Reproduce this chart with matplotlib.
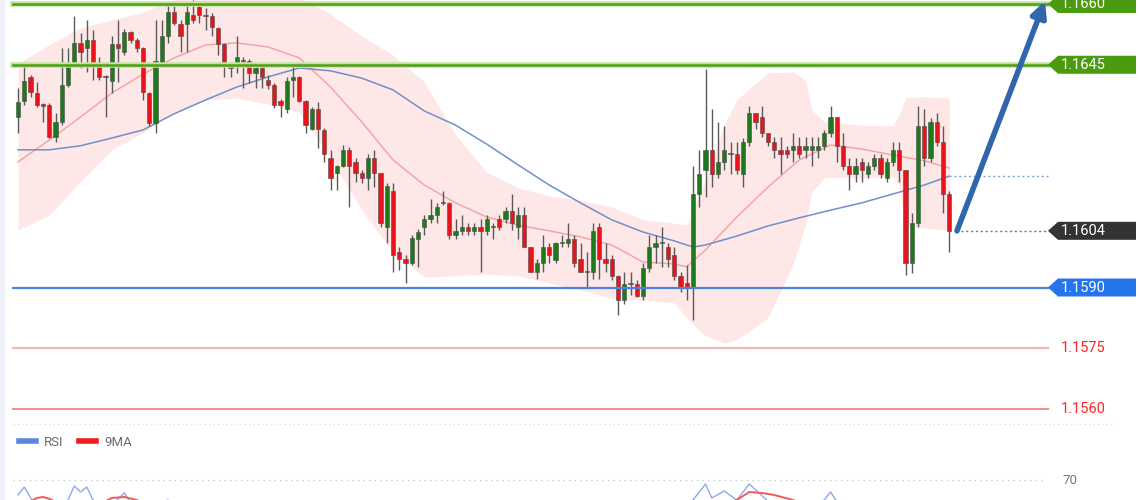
import numpy as np
import matplotlib
matplotlib.use("Agg")
import matplotlib.pyplot as plt
from matplotlib.patches import Polygon, Rectangle
from matplotlib.lines import Line2D

plt.rcParams['font.family'] = ['Roboto', 'DejaVu Sans']

# ---- candles (EUR/USD) ----
opens = [1.16321, 1.16361, 1.16420, 1.16380, 1.16353, 1.16351, 1.16272, 1.16309, 1.16400, 1.16452,
         1.16504, 1.16491, 1.16511, 1.16450, 1.16422, 1.16410, 1.16501, 1.16482, 1.16531, 1.16511,
         1.16491, 1.16380, 1.16306, 1.16454, 1.16521, 1.16580, 1.16551, 1.16551, 1.16573, 1.16593,
         1.16573, 1.16570, 1.16541, 1.16501, 1.16442, 1.16454, 1.16462, 1.16459, 1.16430, 1.16442,
         1.16412, 1.16400, 1.16361, 1.16341, 1.16412, 1.16420, 1.16361, 1.16291, 1.16341, 1.16289,
         1.16220, 1.16183, 1.16200, 1.16240, 1.16210, 1.16183, 1.16171, 1.16220, 1.16183, 1.16050,
         1.16138, 1.15988, 1.15971, 1.15961, 1.16020, 1.16050, 1.16069, 1.16079, 1.16111, 1.16109,
         1.16030, 1.16040, 1.16050, 1.16040, 1.16050, 1.16040, 1.16050, 1.16069, 1.16069, 1.16089,
         1.16050, 1.16079, 1.16000, 1.15938, 1.15961, 1.16000, 1.15968, 1.16010, 1.16010, 1.16020,
         1.15971, 1.15938, 1.15938, 1.16050, 1.15971, 1.15971, 1.15929, 1.15869, 1.15909, 1.15909,
         1.15879, 1.15948, 1.16000, 1.16010, 1.16000, 1.15980, 1.15929, 1.15911, 1.15901, 1.16131,
         1.16190, 1.16240, 1.16180, 1.16210, 1.16230, 1.16230, 1.16180, 1.16259, 1.16331, 1.16321,
         1.16282, 1.16259, 1.16240, 1.16240, 1.16240, 1.16250, 1.16240, 1.16240, 1.16240, 1.16250,
         1.16282, 1.16321, 1.16250, 1.16200, 1.16180, 1.16210, 1.16180, 1.16200, 1.16220, 1.16171,
         1.16210, 1.16240, 1.16190, 1.15961, 1.16059, 1.16299, 1.16220, 1.16309, 1.16259, 1.16131]
closes = [1.16358, 1.16410, 1.16383, 1.16351, 1.16348, 1.16272, 1.16309, 1.16400, 1.16450, 1.16504,
          1.16482, 1.16511, 1.16452, 1.16420, 1.16420, 1.16501, 1.16491, 1.16531, 1.16511, 1.16491,
          1.16383, 1.16306, 1.16459, 1.16521, 1.16580, 1.16553, 1.16521, 1.16580, 1.16561, 1.16573,
          1.16570, 1.16543, 1.16501, 1.16454, 1.16450, 1.16469, 1.16459, 1.16430, 1.16442, 1.16420,
          1.16400, 1.16351, 1.16351, 1.16410, 1.16420, 1.16361, 1.16301, 1.16341, 1.16291, 1.16230,
          1.16171, 1.16200, 1.16240, 1.16200, 1.16183, 1.16171, 1.16220, 1.16183, 1.16059, 1.16151,
          1.15980, 1.15971, 1.15961, 1.16022, 1.16037, 1.16069, 1.16079, 1.16099, 1.16109, 1.16030,
          1.16040, 1.16050, 1.16040, 1.16050, 1.16040, 1.16069, 1.16050, 1.16050, 1.16089, 1.16059,
          1.16079, 1.16000, 1.15938, 1.15961, 1.16000, 1.15980, 1.16010, 1.16010, 1.16020, 1.15961,
          1.15938, 1.15938, 1.16040, 1.15971, 1.15961, 1.15929, 1.15869, 1.15909, 1.15909, 1.15879,
          1.15948, 1.16000, 1.16010, 1.16010, 1.15971, 1.15929, 1.15901, 1.15901, 1.16131, 1.16180,
          1.16240, 1.16180, 1.16210, 1.16240, 1.16230, 1.16190, 1.16259, 1.16331, 1.16309, 1.16282,
          1.16259, 1.16240, 1.16230, 1.16230, 1.16250, 1.16230, 1.16250, 1.16250, 1.16250, 1.16282,
          1.16321, 1.16250, 1.16200, 1.16180, 1.16200, 1.16190, 1.16200, 1.16220, 1.16180, 1.16210,
          1.16240, 1.16190, 1.15961, 1.16059, 1.16299, 1.16220, 1.16309, 1.16259, 1.16131, 1.16040]
highs = [1.16393, 1.16450, 1.16425, 1.16408, 1.16356, 1.16356, 1.16331, 1.16491, 1.16491, 1.16570,
         1.16529, 1.16561, 1.16536, 1.16469, 1.16425, 1.16521, 1.16561, 1.16538, 1.16533, 1.16516,
         1.16494, 1.16383, 1.16561, 1.16561, 1.16603, 1.16598, 1.16561, 1.16603, 1.16610, 1.16603,
         1.16590, 1.16578, 1.16543, 1.16504, 1.16454, 1.16521, 1.16469, 1.16464, 1.16445, 1.16450,
         1.16425, 1.16405, 1.16366, 1.16420, 1.16450, 1.16422, 1.16363, 1.16346, 1.16358, 1.16294,
         1.16240, 1.16203, 1.16252, 1.16247, 1.16220, 1.16190, 1.16230, 1.16240, 1.16183, 1.16158,
         1.16158, 1.16000, 1.15980, 1.16030, 1.16045, 1.16079, 1.16119, 1.16109, 1.16138, 1.16111,
         1.16069, 1.16079, 1.16059, 1.16059, 1.16069, 1.16079, 1.16059, 1.16079, 1.16099, 1.16131,
         1.16099, 1.16099, 1.16000, 1.15971, 1.16030, 1.16010, 1.16013, 1.16030, 1.16059, 1.16030,
         1.16010, 1.15988, 1.16059, 1.16059, 1.16010, 1.15980, 1.15931, 1.15938, 1.15938, 1.15919,
         1.15961, 1.16030, 1.16030, 1.16050, 1.16010, 1.16000, 1.15938, 1.15956, 1.16200, 1.16240,
         1.16440, 1.16341, 1.16309, 1.16299, 1.16259, 1.16259, 1.16269, 1.16348, 1.16331, 1.16348,
         1.16282, 1.16272, 1.16272, 1.16250, 1.16282, 1.16272, 1.16272, 1.16272, 1.16272, 1.16289,
         1.16348, 1.16321, 1.16282, 1.16220, 1.16220, 1.16220, 1.16210, 1.16230, 1.16230, 1.16220,
         1.16259, 1.16259, 1.16190, 1.16084, 1.16348, 1.16341, 1.16319, 1.16331, 1.16299, 1.16138]
lows = [1.16282, 1.16351, 1.16371, 1.16346, 1.16309, 1.16269, 1.16259, 1.16301, 1.16395, 1.16447,
        1.16442, 1.16432, 1.16412, 1.16412, 1.16321, 1.16380, 1.16408, 1.16474, 1.16504, 1.16482,
        1.16363, 1.16299, 1.16282, 1.16452, 1.16504, 1.16548, 1.16482, 1.16482, 1.16553, 1.16553,
        1.16536, 1.16521, 1.16474, 1.16420, 1.16420, 1.16430, 1.16393, 1.16405, 1.16393, 1.16393,
        1.16390, 1.16343, 1.16321, 1.16331, 1.16371, 1.16358, 1.16282, 1.16289, 1.16245, 1.16210,
        1.16141, 1.16141, 1.16198, 1.16099, 1.16161, 1.16158, 1.16141, 1.16148, 1.16050, 1.16010,
        1.15938, 1.15943, 1.15911, 1.15956, 1.15951, 1.16030, 1.16059, 1.16059, 1.16104, 1.16020,
        1.16020, 1.16030, 1.16030, 1.16030, 1.15938, 1.16030, 1.16020, 1.16042, 1.16059, 1.16042,
        1.16020, 1.16000, 1.15938, 1.15921, 1.15938, 1.15961, 1.15961, 1.16000, 1.16000, 1.15951,
        1.15938, 1.15901, 1.15921, 1.15921, 1.15938, 1.15919, 1.15832, 1.15859, 1.15882, 1.15877,
        1.15869, 1.15938, 1.15961, 1.15951, 1.15951, 1.15919, 1.15889, 1.15869, 1.15820, 1.16099,
        1.16124, 1.16148, 1.16171, 1.16190, 1.16180, 1.16180, 1.16148, 1.16250, 1.16291, 1.16272,
        1.16250, 1.16220, 1.16180, 1.16220, 1.16210, 1.16220, 1.16220, 1.16200, 1.16220, 1.16240,
        1.16272, 1.16210, 1.16190, 1.16141, 1.16161, 1.16161, 1.16171, 1.16190, 1.16171, 1.16161,
        1.16200, 1.16161, 1.15931, 1.15936, 1.16050, 1.16200, 1.16210, 1.16250, 1.16084, 1.15988]

# ---- Bollinger band and moving averages (sampled at candle numbers) ----
band_idx = [1, 6, 11, 16, 21, 26, 31, 36, 41, 46, 51, 56, 61, 66, 71, 76, 81, 86, 91, 96, 101,
            106, 108, 111, 114, 116, 121, 125, 127, 128, 130, 136, 141, 142, 143, 146, 150]
band_upper = [1.16454, 1.16499, 1.16541, 1.16561, 1.16580, 1.16610, 1.16630, 1.16635, 1.16630,
              1.16617, 1.16575, 1.16521, 1.16474, 1.16408, 1.16277, 1.16185, 1.16146, 1.16126,
              1.16116, 1.16099, 1.16067, 1.16059, 1.16054, 1.16166, 1.16301, 1.16363, 1.16430,
              1.16432, 1.16412, 1.16338, 1.16309, 1.16301, 1.16299, 1.16326, 1.16368, 1.16371, 1.16368]
band_lower = [1.16042, 1.16079, 1.16161, 1.16240, 1.16282, 1.16333, 1.16363, 1.16368, 1.16353,
              1.16333, 1.16220, 1.16091, 1.15988, 1.15926, 1.15929, 1.15933, 1.15929, 1.15911,
              1.15894, 1.15874, 1.15869, 1.15862, 1.15825, 1.15780, 1.15763, 1.15771, 1.15825,
              1.15956, 1.16054, 1.16136, 1.16171, 1.16171, 1.16175, 1.16153, 1.16054, 1.16047, 1.16042]

ma_fast_idx = [1, 6, 11, 16, 21, 26, 31, 36, 41, 46, 51, 56, 61, 66, 71, 76, 81, 86, 91, 96, 101,
               106, 108, 111, 116, 121, 126, 131, 136, 141, 146, 150]
ma_fast = [1.16210, 1.16264, 1.16321, 1.16380, 1.16427, 1.16467, 1.16499, 1.16504, 1.16494, 1.16467,
           1.16395, 1.16309, 1.16215, 1.16153, 1.16109, 1.16074, 1.16054, 1.16040, 1.16025, 1.16005,
           1.15963, 1.15958, 1.15951, 1.15993, 1.16074, 1.16148, 1.16215, 1.16252, 1.16242, 1.16227,
           1.16213, 1.16195]

ma_slow_idx = [1, 6, 11, 16, 21, 26, 31, 36, 41, 46, 51, 56, 61, 66, 71, 76, 81, 86, 91, 96, 101,
               106, 109, 111, 116, 121, 126, 131, 136, 141, 146, 150]
ma_slow = [1.16240, 1.16240, 1.16250, 1.16269, 1.16289, 1.16329, 1.16363, 1.16395, 1.16420, 1.16442,
           1.16435, 1.16417, 1.16388, 1.16336, 1.16301, 1.16254, 1.16203, 1.16153, 1.16109, 1.16067,
           1.16037, 1.16015, 1.16000, 1.16005, 1.16027, 1.16052, 1.16072, 1.16091, 1.16109, 1.16131,
           1.16153, 1.16175]

# ---- levels ----
resist_levels = [1.1660, 1.1645]
support_main = 1.1590
support_levels = [1.1575, 1.1560]
last_price = 1.1604
target_price = 1.1660

# ---- RSI panel (only its top edge shows) ----
rsi_idx = [1, 2, 3, 4, 7, 9, 10, 11, 12, 13, 14, 16, 18, 19, 21, 25, 27, 40, 80, 104, 107, 109,
           111, 112, 114, 116, 118, 121, 124, 127, 130, 131, 132, 136, 150]
rsi_val = [64, 67.2, 63, 59, 57, 62, 67.6, 65.2, 67.2, 62, 58, 60, 64.8, 61, 58, 62, 56, 45, 40, 50,
           58, 62, 68.4, 62.8, 65.6, 62, 68.4, 61.5, 58, 59, 62, 65.2, 61.5, 55, 48]
ma9_idx = [1, 3, 4, 5, 6, 8, 12, 15, 16, 18, 20, 22, 40, 100, 112, 116, 118, 120, 122, 125, 128, 150]
ma9_val = [60, 61.5, 62.8, 63.2, 62.5, 60, 59, 61.5, 62.8, 63.2, 62, 60, 50, 45, 58, 62, 65.2, 64.8,
           64, 62, 59, 52]

W, H = 1140, 500
PX_PER_PRICE = 40500.0
TOP_PRICE = 1.166099


def px2i(px):
    # pixel column -> candle number
    return 1 + (px - 18) / 6.25


fig = plt.figure(figsize=(W / 100, H / 100), dpi=100, facecolor='white')
fig.patches.append(Rectangle((0, 0), 4 / W, 1, transform=fig.transFigure, color='#eef1f5', zorder=0))

ax = fig.add_axes([0, 76 / H, 1, 424 / H])
ax.set_xlim(px2i(0), px2i(W))
ax.set_ylim(TOP_PRICE - 424 / PX_PER_PRICE, TOP_PRICE)
ax.axis('off')

ax.fill_between(band_idx, band_lower, band_upper, color='#fee7e7', lw=0, zorder=1)
ax.plot(ma_fast_idx, ma_fast, color='#f5a0a0', lw=1.0, zorder=2)
ax.plot(ma_slow_idx, ma_slow, color='#6f90c8', lw=1.1, zorder=2)

idx = np.arange(1, len(closes) + 1)
o = np.array(opens)
c = np.array(closes)
up = c >= o
ax.vlines(idx, lows, highs, color='#5a5a5a', lw=1.0, zorder=3)
body_h = np.maximum(np.abs(c - o), 0.00003)
body_b = np.minimum(o, c)
ax.bar(idx, body_h, bottom=body_b, width=0.7,
       color=np.where(up, '#1c7a1c', '#e8141c'), edgecolor='#4a4a4a', lw=0.4, zorder=3.5)

x_start, x_end = 13 / W, 1048 / W
for lvl in resist_levels:
    ax.axhline(lvl, x_start, x_end, color='#c3e2a5', lw=4.0, zorder=4)
    ax.axhline(lvl, x_start, x_end, color='#4fa012', lw=1.8, zorder=4.1)
ax.axhline(support_main, x_start, x_end, color='#4c82e2', lw=1.6, zorder=4)
ax.axhline(support_levels[0], x_start, x_end, color='#f9b4b4', lw=1.6, zorder=4)
ax.axhline(support_levels[1], x_start, x_end, color='#f28e8e', lw=1.4, zorder=4)

# dotted guides for the last price and the slow average
ax.plot([idx[-1] + 1, px2i(1048)], [last_price, last_price], color='#777777', lw=1.0,
        ls=(0, (1.5, 2)), zorder=4)
ax.plot([idx[-1], px2i(1048)], [ma_slow[-1], ma_slow[-1]], color='#7e9fd3', lw=1.0,
        ls=(0, (1.5, 2)), zorder=4)


def tag(level, face, txt_color='white', box=True):
    half = 9 / PX_PER_PRICE
    if box:
        pts = [(px2i(1048), level), (px2i(1058), level + half), (px2i(1136), level + half),
               (px2i(1136), level - half), (px2i(1058), level - half)]
        ax.add_patch(Polygon(pts, closed=True, fc=face, ec='none', zorder=5))
    ax.text(px2i(1061), level, f'{level:.4f}', color=txt_color, fontsize=10.5,
            va='center', ha='left', zorder=6)


for lvl in resist_levels:
    tag(lvl, '#4b9b0f')
tag(last_price, '#333333')
tag(support_main, '#2474ec')
for lvl in support_levels:
    tag(lvl, None, txt_color='#ff2424', box=False)

ax.annotate('', xy=(px2i(1045), target_price + 3 / PX_PER_PRICE),
            xytext=(px2i(957), last_price),
            arrowprops=dict(arrowstyle='-|>,head_length=0.9,head_width=0.45', lw=4,
                            color='#3166ad', shrinkA=0, shrinkB=0), zorder=6)

# separator and legend of the lower panel
fig.add_artist(Line2D([13 / W, 1115 / W], [1 - 424 / H, 1 - 424 / H], color='#d8d8d8', lw=0.8,
                      ls=(0, (1, 3)), transform=fig.transFigure))
handles = [Line2D([], [], color='#5a86e0', lw=4), Line2D([], [], color='#ee1c1c', lw=4)]
fig.legend(handles, ['RSI', '9MA'], loc='center left', bbox_to_anchor=(0.006, 1 - 442 / H),
           ncol=2, frameon=False, fontsize=9.5, handlelength=1.3, handletextpad=0.6,
           columnspacing=1.2, labelcolor='#6b6b6b')

ax2 = fig.add_axes([0, 0, 1, 30 / H])
ax2.set_xlim(px2i(0), px2i(W))
ax2.set_ylim(62, 74)
ax2.axis('off')
ax2.axhline(70, 13 / W, 1046 / W, color='#c8c8c8', lw=1.0, ls=(0, (1, 3)))
ax2.text(px2i(1062), 70, '70', color='#777777', fontsize=9.5, va='center', ha='left')
ax2.plot(rsi_idx, rsi_val, color='#8ea9ea', lw=1.0)
ax2.plot(ma9_idx, ma9_val, color='#f05a5a', lw=1.4)

fig.savefig('out.png', dpi=100, facecolor='white')
